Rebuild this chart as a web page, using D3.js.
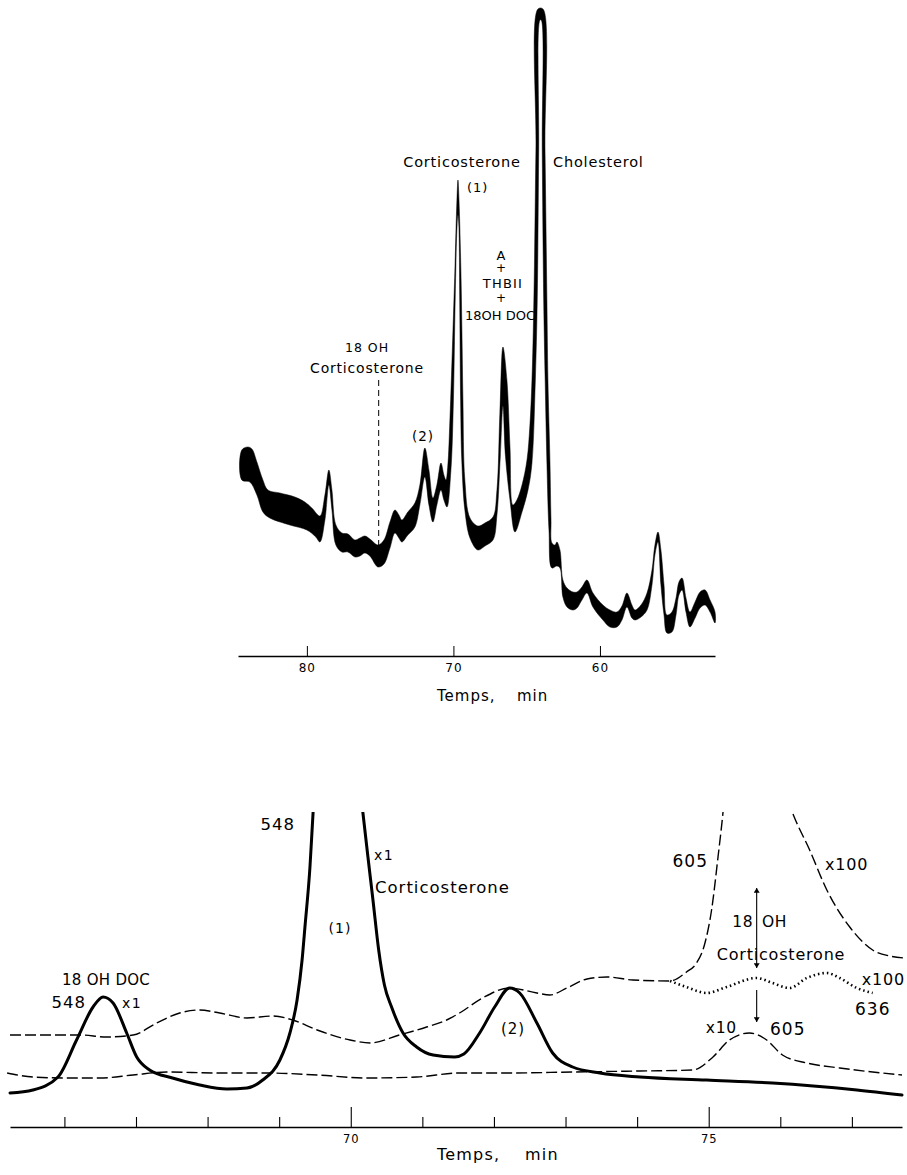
<!DOCTYPE html>
<html>
<head>
<meta charset="utf-8">
<script src="https://cdn.jsdelivr.net/npm/d3@7"></script>
<style>
body { margin: 0; background: #fff; }
svg { display: block; font-family: "DejaVu Sans", sans-serif; }
</style>
</head>
<body>
<script>
// ---- top chromatogram: pen band, outer edge and inner edge [min, signal]
var bandUpper = [[84.44,206],[84.03,209],[83.75,207],[83.41,194],[83.00,176],[82.66,166],[81.84,163],[80.82,159],[80.14,154],[79.66,148],[79.11,140],[78.77,161],[78.50,186],[78.29,166],[78.02,131],[77.61,123],[77.20,122],[76.72,116],[76.38,118],[76.04,120],[75.70,117],[75.15,111],[74.74,116],[74.33,134],[73.99,146],[73.72,141],[73.52,136],[73.11,144],[72.63,153],[72.29,171],[71.95,208],[71.67,186],[71.40,158],[71.13,171],[70.85,193],[70.65,181],[70.51,176],[70.38,191],[70.24,236],[70.03,326],[69.90,386],[69.76,456],[69.69,476],[69.62,456],[69.49,386],[69.42,326],[69.35,256],[69.22,176],[68.87,138],[68.33,130],[67.85,133],[67.30,139],[67.03,166],[66.83,243],[66.62,309],[66.35,276],[66.14,209],[65.94,151],[65.67,156],[65.32,171],[64.98,196],[64.78,231],[64.64,276],[64.51,356],[64.37,506],[64.23,647],[63.89,647],[63.75,506],[63.62,356],[63.55,276],[63.41,193],[63.34,136],[63.28,113],[63.07,111],[62.94,114],[62.73,106],[62.53,76],[62.25,68],[61.84,64],[61.57,64],[61.23,69],[60.89,76],[60.48,63],[59.80,51],[59.32,46],[58.84,44],[58.50,50],[58.16,63],[57.82,51],[57.61,46],[57.20,51],[56.79,63],[56.45,86],[56.25,111],[56.04,124],[55.84,106],[55.63,71],[55.43,41],[55.09,44],[54.81,58],[54.61,74],[54.40,78],[54.13,58],[53.86,44],[53.51,54],[53.17,64],[52.83,66],[52.49,56],[52.15,44]];
var bandLower = [[84.44,176],[83.89,174],[83.41,161],[83.00,144],[82.53,138],[81.16,131],[80.00,126],[79.39,119],[79.11,114],[78.77,136],[78.50,171],[78.29,146],[78.02,111],[77.61,104],[77.20,104],[76.72,99],[76.38,100],[76.04,103],[75.70,100],[75.15,89],[74.74,92],[74.33,108],[73.99,123],[73.72,118],[73.52,114],[73.11,121],[72.63,129],[72.29,151],[71.95,179],[71.67,151],[71.40,134],[71.13,151],[70.85,166],[70.65,156],[70.44,149],[70.17,186],[70.00,256],[69.88,356],[69.75,431],[69.69,441],[69.63,431],[69.57,356],[69.51,256],[69.43,196],[69.22,146],[68.87,118],[68.33,106],[67.85,110],[67.30,116],[67.03,141],[66.80,200],[66.62,250],[66.45,200],[66.14,156],[65.80,124],[65.32,144],[64.91,166],[64.64,193],[64.41,276],[64.28,356],[64.18,506],[64.09,636],[64.01,636],[63.94,506],[63.84,356],[63.74,276],[63.62,193],[63.48,126],[63.28,88],[62.94,90],[62.73,88],[62.53,59],[62.25,49],[61.84,46],[61.57,48],[61.23,56],[60.89,63],[60.48,49],[59.80,36],[59.32,29],[58.84,29],[58.50,36],[58.16,49],[57.82,38],[57.61,36],[57.20,39],[56.79,46],[56.45,71],[56.25,101],[56.04,114],[55.84,71],[55.63,41],[55.43,23],[55.09,24],[54.81,41],[54.61,61],[54.40,66],[54.13,44],[53.86,29],[53.51,38],[53.17,48],[52.83,51],[52.49,44],[52.15,33]];
var topTicks = [80, 70, 60];
var topMarker = {t: 75.1, from: 276, to: 109};   // 18 OH corticosterone

// ---- bottom chromatogram traces [min, signal]
var trace548 = [[65.24,34],[65.56,37],[65.91,50],[66.17,87],[66.40,120],[66.54,130],[66.68,124],[66.87,94],[67.01,70],[67.19,57],[67.51,49],[67.89,42],[68.27,38],[68.55,39],[68.77,47],[69.01,67],[69.15,94],[69.25,127],[69.32,167],[69.36,200],[69.43,260],[69.47,310],[69.82,560],[70.17,314],[70.24,270],[70.31,227],[70.39,177],[70.47,142],[70.57,120],[70.73,94],[70.92,80],[71.15,72],[71.45,70],[71.58,73],[71.80,94],[72.01,120],[72.22,139],[72.36,134],[72.60,104],[72.82,74],[73.10,60],[73.48,54],[74.04,50],[74.97,47],[75.89,44],[77.07,37],[77.70,32]];
var trace605 = [[65.24,92],[65.80,92],[66.22,92],[66.59,90],[66.96,92],[67.29,104],[67.61,114],[67.89,117],[68.17,114],[68.55,109],[68.91,111],[69.19,107],[69.53,97],[69.99,87],[70.27,84],[70.68,92],[71.06,100],[71.34,107],[71.52,114],[71.84,129],[72.22,139],[72.60,134],[72.78,132],[73.02,139],[73.30,148],[73.58,150],[73.94,147],[74.46,146],[74.69,155],[74.83,164],[74.94,182],[75.04,217],[75.13,270],[75.20,315],[75.24,347]];
var trace636 = [[74.46,146],[74.69,140],[74.97,134],[75.25,140],[75.67,149],[75.89,144],[76.13,139],[76.37,149],[76.65,154],[76.83,149],[77.07,139],[77.29,134]];
var traceX100 = [[76.10,327],[76.20,309],[76.41,277],[76.65,237],[76.97,200],[77.29,177],[77.53,171],[77.74,169]];
var trace605x10 = [[65.20,54],[65.56,50],[66.03,49],[66.49,49],[66.96,52],[67.43,55],[68.13,54],[68.83,54],[69.53,52],[70.22,49],[70.92,50],[71.52,54],[72.18,54],[73.10,55],[74.04,56],[74.78,57],[75.06,70],[75.29,87],[75.57,94],[75.81,87],[76.03,72],[76.37,64],[76.83,59],[77.29,55],[77.70,52]];
var bottomTicks = [66, 67, 68, 69, 70, 71, 72, 73, 74, 75, 76, 77];
var arrowTime = 75.67;

var w = 907, h = 1175;

var svg = d3.select("body")
            .append("svg")
            .attr("width", w)
            .attr("height", h);

var defs = svg.append("defs");
defs.append("marker")
    .attr("id", "head")
    .attr("viewBox", "0 0 8 10")
    .attr("refX", 8).attr("refY", 5)
    .attr("markerWidth", 5).attr("markerHeight", 6)
    .attr("markerUnits", "userSpaceOnUse")
    .attr("orient", "auto-start-reverse")
    .append("path")
    .attr("d", "M0,0L8,5L0,10Z")
    .attr("fill", "#000");

var label = function(x, y, txt, size, anchor, ls) {
    return svg.append("text")
        .attr("x", x).attr("y", y)
        .attr("font-size", size)
        .attr("text-anchor", anchor || "start")
        .attr("letter-spacing", ls || 0)
        .attr("fill", "#000")
        .text(txt);
};

// ================= top chart =================
var xTop = d3.scaleLinear()
             .domain([84.7, 52.15])
             .range([238, 715]);

var yTop = d3.scaleLinear()
             .domain([0, 650])
             .range([656, 6]);

var bandLine = d3.line()
                 .x(d => xTop(d[0]))
                 .y(d => yTop(d[1]))
                 .curve(d3.curveCatmullRomClosed.alpha(0.5));

// outer edge left to right, then inner edge back
var outline = bandUpper.concat(bandLower.slice().reverse());

svg.append("path")
   .attr("d", bandLine(outline))
   .attr("fill", "#000")
   .attr("stroke", "#000")
   .attr("stroke-width", 0.5)
   .attr("stroke-linejoin", "round");

svg.append("line")
   .attr("x1", xTop(topMarker.t)).attr("x2", xTop(topMarker.t))
   .attr("y1", yTop(topMarker.from)).attr("y2", yTop(topMarker.to))
   .attr("stroke", "#000")
   .attr("stroke-width", 1)
   .attr("stroke-dasharray", "6,4");

var topAxis = svg.append("g")
   .attr("transform", "translate(0,656)")
   .call(d3.axisBottom(xTop)
           .tickValues(topTicks)
           .tickSizeInner(-10)
           .tickSizeOuter(0)
           .tickPadding(7));
topAxis.attr("font-family", null).attr("font-size", 12);
topAxis.select(".domain").attr("stroke-width", 1.3);
topAxis.selectAll(".tick line").attr("stroke-width", 1);
topAxis.selectAll(".tick text").attr("letter-spacing", 1);

label(437, 701, "Temps,", 15, "start", 1);
label(517, 701, "min", 15, "start", 1);

label(462, 167, "Corticosterone", 14.5, "middle", 0.8);
label(553, 167, "Cholesterol", 14.5, "start", 0.8);
label(467, 192, "(1)", 13, "start", 1);
label(501, 260, "A", 13, "middle");
label(501, 272, "+", 12, "middle");
label(503, 288, "THBII", 13, "middle", 1.2);
label(501, 302, "+", 12, "middle");
label(500, 320, "18OH DOC", 13, "middle");
label(367, 352, "18 OH", 12.5, "middle", 1);
label(367, 373, "Corticosterone", 14, "middle", 0.8);
label(423, 441, "(2)", 13.5, "middle", 1);

// ================= bottom chart =================
var xBot = d3.scaleLinear()
             .domain([65.24, 77.70])
             .range([10, 902]);

var yBot = d3.scaleLinear()
             .domain([0, 315])
             .range([1127, 812]);

defs.append("clipPath")
    .attr("id", "clipBot")
    .append("rect")
    .attr("x", 0).attr("y", 812)
    .attr("width", w).attr("height", 320);

var traceLine = d3.line()
                  .x(d => xBot(d[0]))
                  .y(d => yBot(d[1]))
                  .curve(d3.curveMonotoneX);

var traceGroup = svg.append("g").attr("clip-path", "url(#clipBot)");

var traces = [
    {data: trace605x10, width: 1.4, dash: "11,4"},
    {data: trace605, width: 1.4, dash: "11,4"},
    {data: traceX100, width: 1.4, dash: "11,4"},
    {data: trace636, width: 2.6, dash: "1.5,3"},
    {data: trace548, width: 3, dash: null}
];

traceGroup.selectAll("path")
          .data(traces)
          .enter()
          .append("path")
          .attr("d", d => traceLine(d.data))
          .attr("fill", "none")
          .attr("stroke", "#000")
          .attr("stroke-width", d => d.width)
          .attr("stroke-dasharray", d => d.dash)
          .attr("stroke-linecap", d => d.dash ? "butt" : "round");

var botAxis = svg.append("g")
   .attr("transform", "translate(0,1127)")
   .call(d3.axisBottom(xBot)
           .tickValues(bottomTicks)
           .tickFormat(d => d % 5 === 0 ? d : "")
           .tickSizeInner(-10)
           .tickSizeOuter(0)
           .tickPadding(8));
botAxis.attr("font-family", null).attr("font-size", 11.5);
botAxis.select(".domain").attr("stroke-width", 1.3);
botAxis.selectAll(".tick line")
       .attr("stroke-width", 1.1)
       .attr("y2", d => d % 5 === 0 ? -20 : -10);
botAxis.selectAll(".tick text").attr("letter-spacing", 1);

label(437, 1160, "Temps,", 16, "start", 1.2);
label(525, 1160, "min", 16, "start", 1.2);

// arrows marking 18 OH corticosterone
svg.append("line")
   .attr("x1", xBot(arrowTime)).attr("x2", xBot(arrowTime))
   .attr("y1", 888).attr("y2", 968)
   .attr("stroke", "#000").attr("stroke-width", 1.1)
   .attr("marker-start", "url(#head)")
   .attr("marker-end", "url(#head)");
svg.append("line")
   .attr("x1", xBot(arrowTime)).attr("x2", xBot(arrowTime))
   .attr("y1", 990).attr("y2", 1022)
   .attr("stroke", "#000").attr("stroke-width", 1.1)
   .attr("marker-end", "url(#head)");

label(295, 830, "548", 16.5, "end", 1);
label(374, 860, "x1", 14, "start", 1.5);
label(375, 893, "Corticosterone", 16.5, "start", 1);
label(340, 933, "(1)", 14, "middle", 1);
label(106, 985, "18 OH DOC", 15, "middle", 0.3);
label(86, 1008, "548", 16.5, "end", 1);
label(122, 1008, "x1", 14, "start", 1.5);
label(513, 1034, "(2)", 15, "middle", 1);
label(708, 867, "605", 17, "end", 1);
label(825, 870, "x100", 16, "start", 0.8);
label(753, 927, "18", 15.5, "end", 0.5);
label(762, 927, "OH", 15.5, "start", 0.5);
label(781, 960, "Corticosterone", 16, "middle", 0.8);
label(905, 985, "x100", 16, "end", 0.8);
label(855, 1015, "636", 17, "start", 1);
label(737, 1033, "x10", 15.5, "end", 0.8);
label(770, 1035, "605", 17, "start", 1);
</script>
</body>
</html>
